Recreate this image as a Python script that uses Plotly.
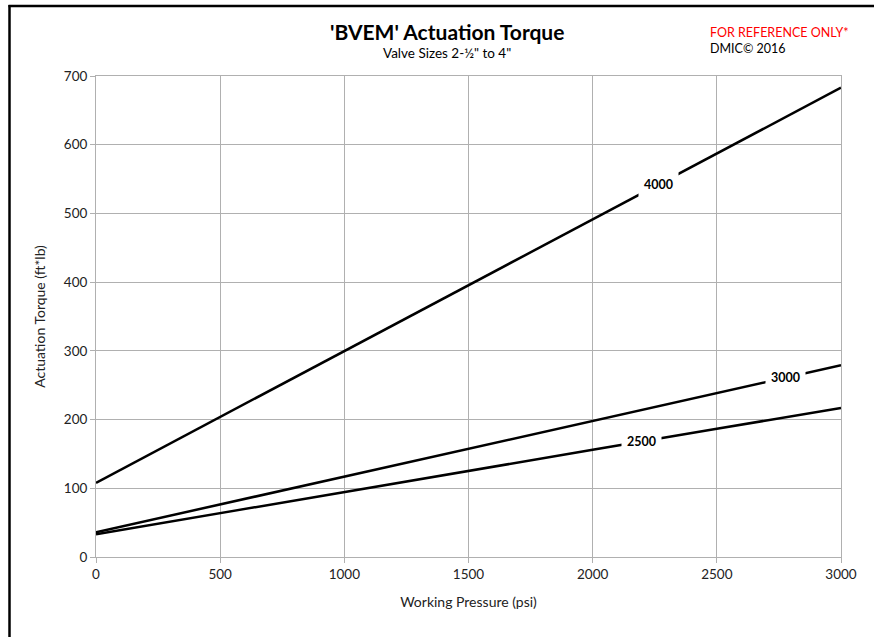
import plotly.graph_objects as go

pressure = [0, 500, 1000, 1500, 2000, 2500, 3000]
torque_4000 = [108, 204, 300, 396, 491, 587, 683]
torque_3000 = [36, 76.5, 117, 157.5, 198, 238.5, 279]
torque_2500 = [33, 64, 94.5, 125, 156, 186.5, 217]

series = [("4000", torque_4000, 2265), ("3000", torque_3000, 2775), ("2500", torque_2500, 2195)]

FONT = "Lato, 'Open Sans', sans-serif"
fig = go.Figure()
for name, vals, lx in series:
    fig.add_trace(go.Scatter(x=pressure, y=vals, mode="lines", name=name,
                             line=dict(color="black", width=2.5), showlegend=False,
                             hoverinfo="skip"))

def interp(xs, ys, x):
    for i in range(len(xs) - 1):
        if xs[i] <= x <= xs[i + 1]:
            t = (x - xs[i]) / (xs[i + 1] - xs[i])
            return ys[i] + t * (ys[i + 1] - ys[i])
    return ys[-1]

for name, vals, lx in series:
    fig.add_annotation(x=lx, y=interp(pressure, vals, lx), text=f"<b>{name}</b>",
                       showarrow=False, bgcolor="white", borderpad=5,
                       font=dict(family=FONT, size=12.5, color="black"))

def py(px):
    return (557 - px) / 481

def pxx(px):
    return (px - 96) / 745

fig.add_annotation(xref="paper", yref="paper", x=pxx(447), y=py(31), xanchor="center", yanchor="middle",
                   text="<b>'BVEM' Actuation Torque</b>", showarrow=False,
                   font=dict(family=FONT, size=21, color="black"))
fig.add_annotation(xref="paper", yref="paper", x=pxx(447), y=py(53), xanchor="center", yanchor="middle",
                   text="Valve Sizes 2-½\" to 4\"", showarrow=False,
                   font=dict(family=FONT, size=13.5, color="black"))
fig.add_annotation(xref="paper", yref="paper", x=pxx(708), y=py(33), xanchor="left", yanchor="middle",
                   text="FOR REFERENCE ONLY*", showarrow=False,
                   font=dict(family=FONT, size=12.5, color="#ff0000"))
fig.add_annotation(xref="paper", yref="paper", x=pxx(708), y=py(48), xanchor="left", yanchor="middle",
                   text="DMIC© 2016", showarrow=False,
                   font=dict(family=FONT, size=12.5, color="black"))

# outer frame (top and left edges visible in the crop)
fig.add_shape(type="line", xref="paper", yref="paper",
              x0=pxx(8.5), x1=pxx(874), y0=py(6), y1=py(6),
              line=dict(color="black", width=2.5), layer="above")
fig.add_shape(type="line", xref="paper", yref="paper",
              x0=pxx(9.5), x1=pxx(9.5), y0=py(637), y1=py(5),
              line=dict(color="black", width=2.5), layer="above")

grid = "#b0b0b0"
fig.update_layout(
    width=874, height=637,
    margin=dict(l=96, r=33, t=76, b=80),
    paper_bgcolor="white", plot_bgcolor="white",
    font=dict(family=FONT, size=13, color="#222"),
    xaxis=dict(range=[0, 3000], dtick=500, showgrid=True, gridcolor=grid, gridwidth=1,
               showline=True, linecolor=grid, linewidth=1, mirror=True,
               ticks="outside", ticklen=5, tickcolor=grid, zeroline=False,
               title=dict(text="Working Pressure (psi)", font=dict(size=14), standoff=15),
               tickfont=dict(size=13.5)),
    yaxis=dict(range=[0, 700], dtick=100, showgrid=True, gridcolor=grid, gridwidth=1,
               showline=True, linecolor=grid, linewidth=1, mirror=True,
               ticks="outside", ticklen=5, tickcolor=grid, zeroline=False,
               title=dict(text="Actuation Torque (ft*lb)", font=dict(size=14), standoff=14),
               tickfont=dict(size=13.5)),
)
fig.write_html("out.html", config={"displayModeBar": False},
               post_script="document.body.style.margin='0';document.body.style.overflow='hidden';")
